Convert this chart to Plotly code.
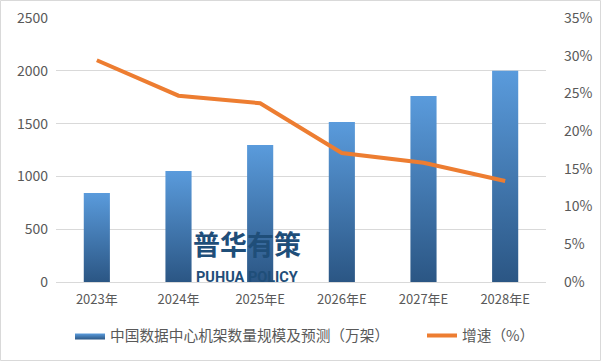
import plotly.graph_objects as go

categories = ["2023年", "2024年", "2025年E", "2026年E", "2027年E", "2028年E"]
racks = [843, 1051, 1297, 1515, 1761, 2000]
growth = [29.4, 24.7, 23.7, 17.1, 15.8, 13.4]
pct_ticks = [0, 5, 10, 15, 20, 25, 30, 35]

bar_name = "中国数据中心机架数量规模及预测（万架）"
line_name = "增速（%）"

FONT = "Noto Sans CJK SC, Microsoft YaHei, sans-serif"
GRAY = "#595959"
half = 0.16

L, R, T, B = 56, 55, 18, 79
W, H = 601, 361
PW, PH = W - L - R, H - T - B

fig = go.Figure()
for i, v in enumerate(racks):
    fig.add_trace(go.Scatter(
        x=[i - half, i + half, i + half, i - half, i - half],
        y=[0, 0, v, v, 0],
        mode="lines", fill="toself",
        line=dict(width=0, color="#3C75B0"),
        fillgradient=dict(type="vertical",
                          colorscale=[[0, "#2B5684"], [1, "#5A9BDC"]]),
        name=bar_name, legendgroup="bar", showlegend=(i == 0),
        legend="legend", hoverinfo="skip",
    ))

fig.add_trace(go.Scatter(
    x=list(range(len(categories))), y=growth, yaxis="y2",
    mode="lines", line=dict(color="#ED7D31", width=4),
    name=line_name, legend="legend2",
))

legend_common = dict(orientation="h", xref="container", xanchor="left",
                     yref="container", y=(H - 336) / H, yanchor="middle",
                     font=dict(size=14.7, color=GRAY), itemwidth=30)

fig.update_layout(
    width=W, height=H,
    margin=dict(l=L, r=R, t=T, b=B),
    paper_bgcolor="white", plot_bgcolor="white",
    font=dict(family=FONT, color=GRAY, size=13),
    xaxis=dict(range=[-0.5, 5.5], tickmode="array",
               tickvals=list(range(len(categories))), ticktext=categories,
               showgrid=False, zeroline=False, showline=True,
               linecolor="#D9D9D9", linewidth=1, ticks="",
               tickfont=dict(size=13, color=GRAY), ticklabelstandoff=5,
               automargin=False),
    yaxis=dict(range=[0, 2500], tickvals=[0, 500, 1000, 1500, 2000, 2500],
               showgrid=True, gridcolor="#D9D9D9", gridwidth=1,
               zeroline=False, tickfont=dict(size=14, color=GRAY),
               ticklabelstandoff=7, automargin=False),
    yaxis2=dict(range=[0, 35], tickmode="array", tickvals=pct_ticks,
                ticktext=[f"{p}%" for p in pct_ticks],
                overlaying="y", side="right",
                showgrid=False, zeroline=False,
                tickfont=dict(size=14, color=GRAY), ticklabelstandoff=17,
                automargin=False),
    legend=dict(x=70 / W, **legend_common),
    legend2=dict(x=422 / W, **legend_common),
    showlegend=True,
)

fig.add_annotation(text="<b>普华有策</b>", xref="paper", yref="paper",
                   x=(247 - L) / PW, y=(282 - 265) / PH, showarrow=False,
                   font=dict(size=27, color="#1F4E79", family=FONT))
fig.add_annotation(text="<b>PUHUA POLICY</b>", xref="paper", yref="paper",
                   x=(247 - L) / PW, y=(282 - 288) / PH, showarrow=False,
                   font=dict(size=14.5, color="#1F4E79",
                             family="Liberation Sans Narrow, Roboto, sans-serif"))

fig.add_shape(type="rect", xref="paper", yref="paper",
              x0=-(L - 0.5) / PW, x1=1 + (R - 0.5) / PW,
              y0=-(B - 0.5) / PH, y1=1 + (T - 0.5) / PH,
              line=dict(color="#D9D9D9", width=1), fillcolor="rgba(0,0,0,0)",
              layer="below")

fig.write_html("out.html", config={"displayModeBar": False},
               post_script="document.body.style.margin='0';")
